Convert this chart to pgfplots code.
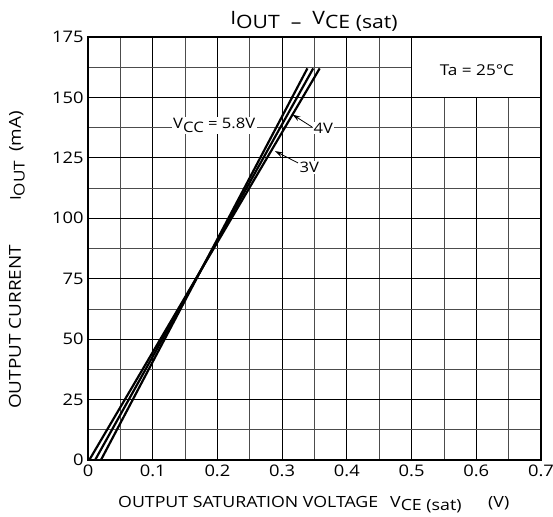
\documentclass[border=0pt]{standalone}
\usepackage{pgfplots}
\pgfplotsset{compat=1.18}
\usetikzlibrary{arrows.meta}
\usepackage{fontspec}
\setmainfont{Open Sans}[FakeStretch=1.15]
\newcommand{\lowsub}[1]{\raisebox{-0.45ex}{#1}}
\begin{document}
\begin{tikzpicture}
\path[use as bounding box] (-88bp,-57bp) rectangle (465bp,460bp);
\begin{axis}[
  at={(0,0)}, anchor=south west,
  scale only axis, width=453bp, height=423bp,
  xmin=0, xmax=0.7, ymin=0, ymax=175,
  xtick={0,0.1,0.2,0.3,0.4,0.5,0.6,0.7},
  xticklabels={0,0.1,0.2,0.3,0.4,0.5,0.6,0.7},
  minor xtick={0.05,0.15,0.25,0.35,0.45,0.55,0.65},
  ytick={0,25,50,75,100,125,150,175},
  minor ytick={12.5,37.5,62.5,87.5,112.5,137.5,162.5},
  grid=both,
  major grid style={black, line width=0.9pt},
  minor grid style={black!70, line width=0.8pt},
  major tick length=0pt, minor tick length=0pt,
  axis line style={line width=1.5pt},
  tick label style={font=\fontsize{16}{19}\selectfont},
  /pgf/number format/assume math mode=true,
  xticklabel style={yshift=-1pt},
  yticklabel style={xshift=-1pt},
]
\fill[white] (axis cs:0.5,150) rectangle (axis cs:0.7,175);
\draw[line width=0.9pt] (axis cs:0.5,175) -- (axis cs:0.5,150) -- (axis cs:0.7,150);
\draw[line width=1.5pt] (axis cs:0.5,175) -- (axis cs:0.7,175) -- (axis cs:0.7,150);
\node[font=\fontsize{15}{18}\selectfont] at (axis cs:0.601,161.4) {Ta = 25°C};

% 3V
\addplot[line width=2.2pt, line cap=butt] coordinates {(0.002,0) (0.358,162)};
% 4V
\addplot[line width=2.2pt, line cap=butt] coordinates {(0.011,0) (0.348,162)};
% 5.8V
\addplot[line width=2.2pt, line cap=butt] coordinates {(0.020,0) (0.339,162)};

\node[fill=white, inner sep=1.5pt, font=\fontsize{14.5}{17}\selectfont] at (axis cs:0.195,138.5) {V\lowsub{CC} = 5.8V};
\draw[-{Stealth[length=8pt,width=5pt]}, line width=0.8pt] (axis cs:0.346,137.8) -- (axis cs:0.316,142.9);
\node[fill=white, inner sep=0.8pt, anchor=west, font=\fontsize{14.5}{17}\selectfont] at (axis cs:0.347,137.4) {4V};
\draw[-{Stealth[length=8pt,width=5pt]}, line width=0.8pt] (axis cs:0.3245,122.9) -- (axis cs:0.289,127.8);
\node[fill=white, inner sep=0.8pt, anchor=west, font=\fontsize{14.5}{17}\selectfont] at (axis cs:0.3255,121.0) {3V};
\end{axis}
\node[anchor=base, font=\fontsize{18.5}{21}\selectfont] at (226bp,431bp) {\raisebox{0.45ex}{I}OUT\ \ –\ \ \raisebox{0.45ex}{V}CE (sat)};
\begin{scope}[every node/.style={font=\fontsize{15.5}{18}\selectfont, inner sep=0pt}]
\node[anchor=base west] at (30bp,-47bp) {OUTPUT SATURATION VOLTAGE};
\node[anchor=base west] at (302bp,-47bp) {V\lowsub{CE (sat)}};
\node[anchor=base west] at (400bp,-47bp) {(V)};
\end{scope}
\begin{scope}[every node/.style={font=\fontsize{16.5}{19}\selectfont, inner sep=0pt, rotate=90}]
\node[anchor=base west] at (-67bp,51bp) {OUTPUT CURRENT};
\node[anchor=base west, font=\fontsize{15}{18}\selectfont] at (-67bp,259bp) {I\lowsub{OUT}};
\node[anchor=base west] at (-67bp,308bp) {(mA)};
\end{scope}
\end{tikzpicture}
\end{document}
